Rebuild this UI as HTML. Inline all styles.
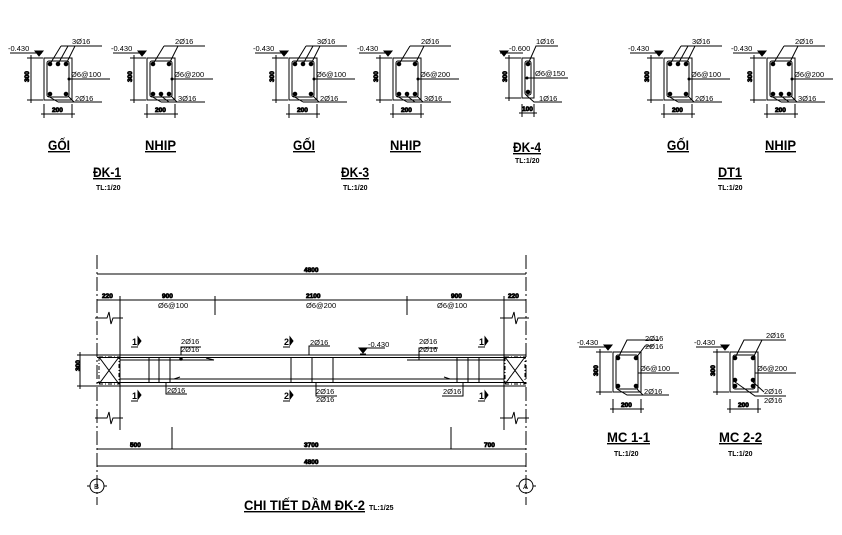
<!DOCTYPE html>
<html><head><meta charset="utf-8"><style>
html,body{margin:0;padding:0;background:#fff;}
svg{display:block;font-family:"Liberation Sans",sans-serif;}
.t{font-size:7.5px;fill:#000;}
.d{font-size:6.5px;font-weight:bold;fill:#000;stroke:#000;stroke-width:0.8px;}
.h{font-size:14px;fill:#000;}
.s{font-size:7px;font-weight:bold;fill:#000;}
line,polyline,rect,path,circle{stroke:#000;fill:none;stroke-width:1;}
[fill="#000"]{fill:#000;}
</style></head><body>
<svg width="842" height="535" viewBox="0 0 842 535" xmlns="http://www.w3.org/2000/svg">
<defs>
<g id="sec">
<rect x="0" y="0" width="28" height="42"/>
<rect x="3" y="3" width="22" height="36" rx="2"/>
<line x1="-17" y1="0" x2="-1" y2="0" stroke-width="0.7"/>
<line x1="-17" y1="42" x2="-1" y2="42" stroke-width="0.7"/>
<line x1="-13" y1="-3" x2="-13" y2="45"/>
<line x1="-3" y1="56" x2="31" y2="56"/>
<line x1="0" y1="46" x2="0" y2="60" stroke-width="0.7"/>
<line x1="28" y1="46" x2="28" y2="60" stroke-width="0.7"/>
<line x1="-34" y1="-5" x2="-2" y2="-5" stroke-width="0.7"/>
<path d="M-9,-7 L-1,-7 L-5,-2 Z" fill="#000"/>
<line x1="25" y1="21" x2="66" y2="21"/>
<circle cx="25" cy="21" r="1" fill="#000"/>
<line x1="17" y1="-12" x2="58" y2="-12" stroke-width="0.7"/>
<line x1="14" y1="44" x2="58" y2="44" stroke-width="1.5"/>
</g>
</defs>

<!-- DK-1 GOI -->
<g transform="translate(44,58)">
<use href="#sec"/>
<circle cx="6" cy="6" r="1.8" fill="#000"/><circle cx="14" cy="6" r="1.8" fill="#000"/><circle cx="22" cy="6" r="1.8" fill="#000"/>
<circle cx="6" cy="36" r="1.8" fill="#000"/><circle cx="22" cy="36" r="1.8" fill="#000"/>
<polyline points="6,6 17,-12"/><polyline points="14,6 24,-12"/><polyline points="22,6 31,-12"/>
<polyline points="4,38 14,44"/><polyline points="24,38 30,44"/>
<text class="t" x="-36" y="-7">-0.430</text><text class="t" x="28" y="-14">3Ø16</text>
<text class="t" x="27" y="19">Ø6@100</text><text class="t" x="31" y="43">2Ø16</text>
<text class="d" x="-17" y="26" transform="rotate(-90 -17 24)">300</text><text class="d" x="8" y="54">200</text>
</g>
<!-- DK-1 NHIP -->
<g transform="translate(147,58)">
<use href="#sec"/>
<circle cx="6" cy="6" r="1.8" fill="#000"/><circle cx="22" cy="6" r="1.8" fill="#000"/>
<circle cx="6" cy="36" r="1.8" fill="#000"/><circle cx="14" cy="36" r="1.8" fill="#000"/><circle cx="22" cy="36" r="1.8" fill="#000"/>
<polyline points="6,6 17,-12"/><polyline points="22,6 31,-12"/>
<polyline points="4,38 14,44"/><polyline points="14,38 22,44"/><polyline points="24,38 30,44"/>
<text class="t" x="-36" y="-7">-0.430</text><text class="t" x="28" y="-14">2Ø16</text>
<text class="t" x="27" y="19">Ø6@200</text><text class="t" x="31" y="43">3Ø16</text>
<text class="d" x="-17" y="26" transform="rotate(-90 -17 24)">300</text><text class="d" x="8" y="54">200</text>
</g>
<text class="h" x="48" y="150" text-decoration="underline" font-weight="bold" textLength="22" lengthAdjust="spacingAndGlyphs">GỐI</text>
<text class="h" x="145" y="150" text-decoration="underline" font-weight="bold" textLength="31" lengthAdjust="spacingAndGlyphs">NHIP</text>
<text class="h" x="93" y="177" text-decoration="underline" font-weight="bold" textLength="28" lengthAdjust="spacingAndGlyphs">ĐK-1</text>
<text class="s" x="96" y="190">TL:1/20</text>

<!-- DK-3 GOI -->
<g transform="translate(289,58)">
<use href="#sec"/>
<circle cx="6" cy="6" r="1.8" fill="#000"/><circle cx="14" cy="6" r="1.8" fill="#000"/><circle cx="22" cy="6" r="1.8" fill="#000"/>
<circle cx="6" cy="36" r="1.8" fill="#000"/><circle cx="22" cy="36" r="1.8" fill="#000"/>
<polyline points="6,6 17,-12"/><polyline points="14,6 24,-12"/><polyline points="22,6 31,-12"/>
<polyline points="4,38 14,44"/><polyline points="24,38 30,44"/>
<text class="t" x="-36" y="-7">-0.430</text><text class="t" x="28" y="-14">3Ø16</text>
<text class="t" x="27" y="19">Ø6@100</text><text class="t" x="31" y="43">2Ø16</text>
<text class="d" x="-17" y="26" transform="rotate(-90 -17 24)">300</text><text class="d" x="8" y="54">200</text>
</g>
<!-- DK-3 NHIP -->
<g transform="translate(393,58)">
<use href="#sec"/>
<circle cx="6" cy="6" r="1.8" fill="#000"/><circle cx="22" cy="6" r="1.8" fill="#000"/>
<circle cx="6" cy="36" r="1.8" fill="#000"/><circle cx="14" cy="36" r="1.8" fill="#000"/><circle cx="22" cy="36" r="1.8" fill="#000"/>
<polyline points="6,6 17,-12"/><polyline points="22,6 31,-12"/>
<polyline points="4,38 14,44"/><polyline points="14,38 22,44"/><polyline points="24,38 30,44"/>
<text class="t" x="-36" y="-7">-0.430</text><text class="t" x="28" y="-14">2Ø16</text>
<text class="t" x="27" y="19">Ø6@200</text><text class="t" x="31" y="43">3Ø16</text>
<text class="d" x="-17" y="26" transform="rotate(-90 -17 24)">300</text><text class="d" x="8" y="54">200</text>
</g>
<text class="h" x="293" y="150" text-decoration="underline" font-weight="bold" textLength="22" lengthAdjust="spacingAndGlyphs">GỐI</text>
<text class="h" x="390" y="150" text-decoration="underline" font-weight="bold" textLength="31" lengthAdjust="spacingAndGlyphs">NHIP</text>
<text class="h" x="341" y="177" text-decoration="underline" font-weight="bold" textLength="28" lengthAdjust="spacingAndGlyphs">ĐK-3</text>
<text class="s" x="343" y="190">TL:1/20</text>

<!-- DK-4 -->
<g transform="translate(522,58)">
<rect x="0" y="0" width="12" height="40"/>
<rect x="3" y="3" width="6" height="34" rx="2"/>
<line x1="-17" y1="0" x2="-1" y2="0" stroke-width="0.7"/><line x1="-17" y1="40" x2="-1" y2="40" stroke-width="0.7"/>
<line x1="-13" y1="-3" x2="-13" y2="43"/>
<line x1="-3" y1="55" x2="15" y2="55"/><line x1="0" y1="46" x2="0" y2="59" stroke-width="0.7"/><line x1="12" y1="46" x2="12" y2="59" stroke-width="0.7"/>
<line x1="-22" y1="-5" x2="1" y2="-5" stroke-width="0.7"/>
<path d="M-22,-7 L-14,-7 L-18,-2 Z" fill="#000"/>
<line x1="5" y1="20" x2="46" y2="20"/><circle cx="5" cy="20" r="1" fill="#000"/>
<circle cx="6" cy="6" r="1.8" fill="#000"/><circle cx="6" cy="34" r="1.8" fill="#000"/>
<polyline points="6,6 14,-12 36,-12" stroke-width="0.7"/>
<polyline points="4,37 12,44 40,44" stroke-width="1.3"/>
<text class="t" x="-13" y="-7">-0.600</text><text class="t" x="14" y="-14">1Ø16</text>
<text class="t" x="13" y="18">Ø6@150</text><text class="t" x="17" y="43">1Ø16</text>
<text class="d" x="-17" y="26" transform="rotate(-90 -17 24)">300</text><text class="d" x="0" y="53">100</text>
</g>
<text class="h" x="513" y="152" text-decoration="underline" font-weight="bold" textLength="28" lengthAdjust="spacingAndGlyphs">ĐK-4</text>
<text class="s" x="515" y="163">TL:1/20</text>

<!-- DT1 GOI -->
<g transform="translate(664,58)">
<use href="#sec"/>
<circle cx="6" cy="6" r="1.8" fill="#000"/><circle cx="14" cy="6" r="1.8" fill="#000"/><circle cx="22" cy="6" r="1.8" fill="#000"/>
<circle cx="6" cy="36" r="1.8" fill="#000"/><circle cx="22" cy="36" r="1.8" fill="#000"/>
<polyline points="6,6 17,-12"/><polyline points="14,6 24,-12"/><polyline points="22,6 31,-12"/>
<polyline points="4,38 14,44"/><polyline points="24,38 30,44"/>
<text class="t" x="-36" y="-7">-0.430</text><text class="t" x="28" y="-14">3Ø16</text>
<text class="t" x="27" y="19">Ø6@100</text><text class="t" x="31" y="43">2Ø16</text>
<text class="d" x="-17" y="26" transform="rotate(-90 -17 24)">300</text><text class="d" x="8" y="54">200</text>
</g>
<!-- DT1 NHIP -->
<g transform="translate(767,58)">
<use href="#sec"/>
<circle cx="6" cy="6" r="1.8" fill="#000"/><circle cx="22" cy="6" r="1.8" fill="#000"/>
<circle cx="6" cy="36" r="1.8" fill="#000"/><circle cx="14" cy="36" r="1.8" fill="#000"/><circle cx="22" cy="36" r="1.8" fill="#000"/>
<polyline points="6,6 17,-12"/><polyline points="22,6 31,-12"/>
<polyline points="4,38 14,44"/><polyline points="14,38 22,44"/><polyline points="24,38 30,44"/>
<text class="t" x="-36" y="-7">-0.430</text><text class="t" x="28" y="-14">2Ø16</text>
<text class="t" x="27" y="19">Ø6@200</text><text class="t" x="31" y="43">3Ø16</text>
<text class="d" x="-17" y="26" transform="rotate(-90 -17 24)">300</text><text class="d" x="8" y="54">200</text>
</g>
<text class="h" x="667" y="150" text-decoration="underline" font-weight="bold" textLength="22" lengthAdjust="spacingAndGlyphs">GỐI</text>
<text class="h" x="765" y="150" text-decoration="underline" font-weight="bold" textLength="31" lengthAdjust="spacingAndGlyphs">NHIP</text>
<text class="h" x="718" y="177" text-decoration="underline" font-weight="bold" textLength="24" lengthAdjust="spacingAndGlyphs">DT1</text>
<text class="s" x="718" y="190">TL:1/20</text>

<!-- BEAM ELEVATION -->
<g>
<line x1="97" y1="255" x2="97" y2="505" stroke-dasharray="14,3,2,3" stroke-width="0.8"/>
<line x1="526" y1="255" x2="526" y2="505" stroke-dasharray="14,3,2,3" stroke-width="0.8"/>
<line x1="97" y1="274" x2="526" y2="274"/>
<text class="d" x="304" y="272">4800</text>
<line x1="97" y1="300" x2="526" y2="300"/>
<line x1="215" y1="296" x2="215" y2="315"/><line x1="407" y1="296" x2="407" y2="315"/>
<line x1="120" y1="296" x2="120" y2="430"/><line x1="504" y1="296" x2="504" y2="430"/>
<text class="d" x="102" y="298">220</text><text class="d" x="162" y="298">900</text><text class="d" x="306" y="298">2100</text><text class="d" x="451" y="298">900</text><text class="d" x="508" y="298">220</text>
<text class="t" x="158" y="308" font-size="6.5">Ø6@100</text><text class="t" x="306" y="308" font-size="6.5">Ø6@200</text><text class="t" x="437" y="308" font-size="6.5">Ø6@100</text>
<path d="M95,318 L107,318 L109,312 L111,324 L113,318 L123,318"/>
<path d="M95,418 L107,418 L109,412 L111,424 L113,418 L123,418"/>
<path d="M500,318 L512,318 L514,312 L516,324 L518,318 L529,318"/>
<path d="M500,418 L512,418 L514,412 L516,424 L518,418 L529,418"/>
<line x1="77" y1="355" x2="526" y2="355"/>
<line x1="97" y1="357.5" x2="526" y2="357.5"/>
<line x1="120" y1="379" x2="504" y2="379"/>
<line x1="97" y1="382.5" x2="526" y2="382.5"/>
<line x1="77" y1="386" x2="526" y2="386"/>
<line x1="80" y1="352" x2="80" y2="389"/>
<text class="d" x="77" y="374" transform="rotate(-90 77 371)">300</text>
<rect x="99" y="357" width="20" height="27" stroke-dasharray="4,2,1,2" stroke-width="0.8"/>
<line x1="99" y1="357" x2="119" y2="384" stroke-width="0.6"/><line x1="119" y1="357" x2="99" y2="384" stroke-width="0.6"/>
<rect x="505" y="357" width="20" height="27" stroke-dasharray="4,2,1,2" stroke-width="0.8"/>
<line x1="505" y1="357" x2="525" y2="384" stroke-width="0.6"/><line x1="525" y1="357" x2="505" y2="384" stroke-width="0.6"/>
<line x1="149" y1="357" x2="149" y2="382"/><line x1="159" y1="357" x2="159" y2="382"/><line x1="170" y1="357" x2="170" y2="382"/>
<line x1="291" y1="357" x2="291" y2="382"/><line x1="312" y1="357" x2="312" y2="382"/><line x1="333" y1="357" x2="333" y2="382"/>
<line x1="457" y1="357" x2="457" y2="382"/><line x1="468" y1="357" x2="468" y2="382"/><line x1="479" y1="357" x2="479" y2="382"/>
<line x1="120" y1="360" x2="214" y2="360" stroke-width="0.8"/><line x1="206" y1="358" x2="214" y2="360"/>
<line x1="407" y1="360" x2="504" y2="360" stroke-width="0.8"/>
<line x1="174" y1="379" x2="180" y2="377"/><line x1="444" y1="377" x2="450" y2="379"/>
<polyline points="181,355 181,347 201,347"/><circle cx="181" cy="359" r="1.2" fill="#000"/>
<text class="t" x="181" y="344" font-size="6.5">2Ø16</text><text class="t" x="181" y="352" font-size="6.5">2Ø16</text>
<polyline points="166,382 166,394 187,394"/><text class="t" x="167" y="393" font-size="6.5">2Ø16</text>
<polyline points="309,355 309,346 330,346"/><text class="t" x="310" y="345" font-size="6.5">2Ø16</text>
<polyline points="316,382 316,396 337,396"/><text class="t" x="316" y="394" font-size="6.5">2Ø16</text><text class="t" x="316" y="402" font-size="6.5">2Ø16</text>
<path d="M359,348 L367,348 L363,353 Z" fill="#000"/><line x1="360" y1="354" x2="366" y2="354" stroke-width="1.5"/>
<polyline points="366,348 385,348" stroke-width="0.7"/><text class="t" x="368" y="347" font-size="6.5">-0.430</text>
<polyline points="419,360 419,348 438,348"/><text class="t" x="419" y="344" font-size="6.5">2Ø16</text><text class="t" x="419" y="352" font-size="6.5">2Ø16</text>
<polyline points="463,382 463,396 442,396"/><text class="t" x="443" y="394" font-size="6.5">2Ø16</text>
<g font-weight="bold" font-size="9">
<text x="132" y="345">1</text><path d="M138,337 L141,341 L138,345 Z" fill="#000"/><line x1="131" y1="347" x2="138" y2="347"/>
<text x="132" y="399">1</text><path d="M138,391 L141,395 L138,399 Z" fill="#000"/><line x1="131" y1="401" x2="138" y2="401"/>
<text x="284" y="345">2</text><path d="M290,337 L293,341 L290,345 Z" fill="#000"/><line x1="283" y1="347" x2="290" y2="347"/>
<text x="284" y="399">2</text><path d="M290,391 L293,395 L290,399 Z" fill="#000"/><line x1="283" y1="401" x2="290" y2="401"/>
<text x="479" y="345">1</text><path d="M485,337 L488,341 L485,345 Z" fill="#000"/><line x1="478" y1="347" x2="485" y2="347"/>
<text x="479" y="399">1</text><path d="M485,391 L488,395 L485,399 Z" fill="#000"/><line x1="478" y1="401" x2="485" y2="401"/>
</g>
<line x1="172" y1="427" x2="172" y2="449"/><line x1="451" y1="427" x2="451" y2="449"/>
<line x1="97" y1="449" x2="526" y2="449"/><line x1="97" y1="466" x2="526" y2="466"/>
<text class="d" x="130" y="447">500</text><text class="d" x="304" y="447">3700</text><text class="d" x="484" y="447">700</text>
<text class="d" x="304" y="464">4800</text>
<circle cx="97" cy="486" r="7"/><circle cx="526" cy="486" r="7"/>
<line x1="87" y1="486" x2="90" y2="486"/><line x1="104" y1="486" x2="107" y2="486"/>
<line x1="516" y1="486" x2="519" y2="486"/><line x1="533" y1="486" x2="536" y2="486"/>
<text class="t" x="94" y="489">B</text><text class="t" x="523" y="489">A</text>
<text class="h" x="244" y="510" font-weight="bold" text-decoration="underline" textLength="121" lengthAdjust="spacingAndGlyphs">CHI TIẾT DẦM ĐK-2</text>
<text class="s" x="369" y="510">TL:1/25</text>
</g>

<!-- MC 1-1 -->
<g transform="translate(613,352)">
<rect x="0" y="0" width="28" height="40"/><rect x="3" y="3" width="22" height="34" rx="2"/>
<line x1="-17" y1="0" x2="-1" y2="0" stroke-width="0.7"/><line x1="-17" y1="40" x2="-1" y2="40" stroke-width="0.7"/>
<line x1="-13" y1="-3" x2="-13" y2="43"/>
<line x1="-3" y1="57" x2="31" y2="57"/><line x1="0" y1="47" x2="0" y2="61" stroke-width="0.7"/><line x1="28" y1="47" x2="28" y2="61" stroke-width="0.7"/>
<line x1="-34" y1="-5" x2="-2" y2="-5" stroke-width="0.7"/><path d="M-9,-7 L-1,-7 L-5,-2 Z" fill="#000"/>
<line x1="25" y1="21" x2="66" y2="21"/>
<circle cx="5" cy="6" r="1.8" fill="#000"/><circle cx="23" cy="6" r="1.8" fill="#000"/><circle cx="5" cy="34" r="1.8" fill="#000"/><circle cx="23" cy="34" r="1.8" fill="#000"/>
<polyline points="5,6 14,-12 46,-12" stroke-width="0.7"/><polyline points="23,6 32,-6 40,-6" stroke-width="0.7"/>
<polyline points="4,37 14,43 56,43" stroke-width="1.2"/><polyline points="24,37 30,43"/>
<text class="t" x="-36" y="-7">-0.430</text><text class="t" x="32" y="-11">2Ø16</text><text class="t" x="32" y="-3">2Ø16</text>
<text class="t" x="27" y="19">Ø6@100</text><text class="t" x="31" y="42">2Ø16</text>
<text class="d" x="-17" y="26" transform="rotate(-90 -17 24)">300</text><text class="d" x="8" y="55">200</text>
</g>
<text class="h" x="607" y="442" font-weight="bold" text-decoration="underline" textLength="43" lengthAdjust="spacingAndGlyphs">MC 1-1</text>
<text class="s" x="614" y="456">TL:1/20</text>
<!-- MC 2-2 -->
<g transform="translate(730,352)">
<rect x="0" y="0" width="28" height="40"/><rect x="3" y="3" width="22" height="34" rx="2"/>
<line x1="-17" y1="0" x2="-1" y2="0" stroke-width="0.7"/><line x1="-17" y1="40" x2="-1" y2="40" stroke-width="0.7"/>
<line x1="-13" y1="-3" x2="-13" y2="43"/>
<line x1="-3" y1="57" x2="31" y2="57"/><line x1="0" y1="47" x2="0" y2="61" stroke-width="0.7"/><line x1="28" y1="47" x2="28" y2="61" stroke-width="0.7"/>
<line x1="-34" y1="-5" x2="-2" y2="-5" stroke-width="0.7"/><path d="M-9,-7 L-1,-7 L-5,-2 Z" fill="#000"/>
<line x1="25" y1="21" x2="66" y2="21"/>
<circle cx="5" cy="6" r="1.8" fill="#000"/><circle cx="23" cy="6" r="1.8" fill="#000"/>
<circle cx="5" cy="28" r="1.8" fill="#000"/><circle cx="23" cy="28" r="1.8" fill="#000"/><circle cx="5" cy="34" r="1.8" fill="#000"/><circle cx="23" cy="34" r="1.8" fill="#000"/>
<polyline points="5,6 14,-12 56,-12" stroke-width="0.7"/><polyline points="23,6 32,-12"/>
<polyline points="5,30 25,44 56,44" stroke-width="0.7"/><polyline points="23,30 34,40"/>
<text class="t" x="-36" y="-7">-0.430</text><text class="t" x="36" y="-14">2Ø16</text>
<text class="t" x="27" y="19">Ø6@200</text><text class="t" x="34" y="42">2Ø16</text><text class="t" x="34" y="51">2Ø16</text>
<text class="d" x="-17" y="26" transform="rotate(-90 -17 24)">300</text><text class="d" x="8" y="55">200</text>
</g>
<text class="h" x="719" y="442" font-weight="bold" text-decoration="underline" textLength="43" lengthAdjust="spacingAndGlyphs">MC 2-2</text>
<text class="s" x="728" y="456">TL:1/20</text>
</svg>
</body></html>
